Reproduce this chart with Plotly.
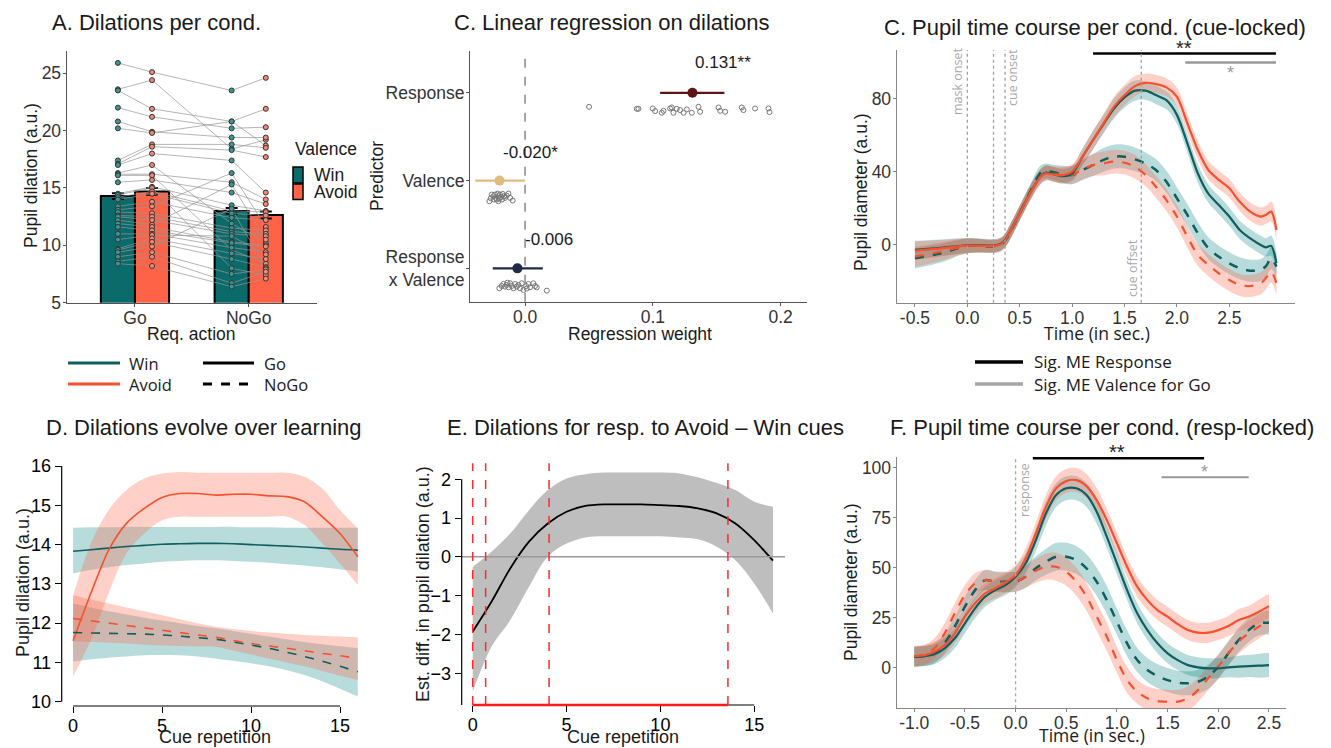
import plotly.graph_objects as go

# ======================= DATA =======================
# --- Panel A: dilations per condition ---
actions = ["Go", "NoGo"]
bar_win = [14.3, 13.0]
bar_avoid = [14.7, 12.65]
bar_se_win = [0.25, 0.25]
bar_se_avoid = [0.3, 0.3]
subj_go_win = [25.9, 23.6, 23.5, 22.0, 20.8, 20.2, 17.4, 17.1, 17.0, 16.3, 16.2, 16.1, 15.5, 14.5, 14.4,
               14.2, 14.0, 13.4, 13.1, 12.9, 12.6, 12.5, 12.2, 11.9, 11.6, 11.0, 10.5, 9.7, 9.6, 9.4, 9.0, 8.6, 8.4]
subj_go_avoid = [25.1, 24.4, 21.9, 21.2, 19.9, 19.8, 18.8, 18.6, 18.0, 17.0, 16.2, 16.1, 15.7, 15.1, 15.0,
                 14.7, 14.5, 13.8, 13.4, 12.8, 12.5, 12.2, 11.8, 11.6, 11.3, 11.0, 10.9, 10.6, 10.3, 9.9, 9.4, 9.0, 8.2]
subj_nogo_win = [23.5, 18.4, 20.8, 20.2, 19.4, 20.8, 18.8, 18.3, 17.4, 11.9, 15.5, 9.6, 14.6, 13.5, 8.0,
                 13.0, 12.8, 12.4, 16.3, 11.5, 11.2, 11.0, 15.3, 10.3, 10.2, 9.8, 10.8, 9.3, 8.8, 13.2, 7.5, 6.7, 6.4]
subj_nogo_avoid = [24.6, 19.2, 21.9, 20.3, 19.4, 18.7, 18.5, 17.7, 14.6, 10.2, 14.0, 8.4, 13.6, 13.0, 7.4,
                   12.9, 12.6, 12.2, 11.6, 11.3, 11.0, 10.8, 10.5, 10.0, 9.9, 9.4, 9.2, 8.8, 8.1, 8.0, 7.9, 7.7, 7.1]

# --- Panel C (left): regression weights ---
predictors = ["Response", "Valence", "Response<br>x Valence"]
pred_row = [3, 2, 1]
est = [0.131, -0.020, -0.006]
ci_lo = [0.1057, -0.039, -0.0253]
ci_hi = [0.156, 0.0, 0.0139]
est_labels = ["0.131**", "-0.020*", "-0.006"]
est_colors = ["#5e1414", "#e0bb80", "#1e2a48"]
w_response = [0.0501, 0.0874, 0.0887, 0.0999, 0.1018, 0.107, 0.1083, 0.1135, 0.1148, 0.1161, 0.1187, 0.1213, 0.124,
              0.1266, 0.1305, 0.1357, 0.137, 0.1514, 0.1527, 0.1566, 0.1696, 0.1709, 0.18, 0.1905, 0.1913]
jit_response = [0.159, 0.182, 0.182, 0.178, 0.208, 0.227, 0.205, 0.178, 0.167, 0.227, 0.182, 0.197, 0.227,
                0.189, 0.227, 0.159, 0.216, 0.167, 0.205, 0.216, 0.167, 0.197, 0.178, 0.178, 0.220]
w_valence = [-0.0279, -0.0269, -0.0248, -0.0243, -0.0235, -0.0227, -0.0222, -0.0214, -0.0209, -0.0201, -0.0196,
             -0.0188, -0.018, -0.0175, -0.0164, -0.0157, -0.0144, -0.013, -0.0117, -0.0097, -0.0261, -0.0209]
jit_valence = [0.235, 0.201, 0.178, 0.216, 0.159, 0.197, 0.216, 0.148, 0.178, 0.205, 0.159, 0.186, 0.216, 0.152,
               0.178, 0.197, 0.170, 0.148, 0.197, 0.227, 0.159, 0.235]
w_interact = [-0.0201, -0.0183, -0.017, -0.0157, -0.0144, -0.013, -0.0117, -0.0104, -0.0091, -0.0078, -0.0065,
              -0.0052, -0.0039, -0.0026, -0.0013, 0.0008, 0.0026, 0.0039, 0.0065, 0.0078, 0.0091, 0.017, 0.0013, -0.0138]
jit_interact = [0.227, 0.201, 0.178, 0.208, 0.189, 0.216, 0.170, 0.201, 0.227, 0.178, 0.208, 0.189, 0.227, 0.170,
                0.246, 0.201, 0.178, 0.216, 0.170, 0.201, 0.216, 0.254, 0.231, 0.163]

# --- Panel C (right): cue-locked time course ---
t_cue = [-0.5, -0.25, 0, 0.25, 0.3, 0.35, 0.4, 0.5, 0.6, 0.7, 0.75, 0.8, 0.9, 1.0, 1.1, 1.2, 1.3, 1.4, 1.5, 1.6,
         1.7, 1.8, 1.9, 2.0, 2.1, 2.2, 2.3, 2.4, 2.5, 2.6, 2.7, 2.8, 2.85, 2.9, 2.95]
cue_go_win = [-2.7, -1.5, -0.2, -0.3, 0.2, 2.0, 6.5, 17.5, 28.5, 37.5, 39.5, 39.0, 37.5, 39.0, 48.2, 57.3, 66.0,
              74.5, 80.5, 84.2, 84.2, 81.8, 79.0, 71.0, 55.5, 39.0, 28.0, 21.8, 15.5, 8.2, 3.6, 0.0, -1.3, -0.5, -10.0]
cue_go_avoid = [-3.1, -1.8, -0.4, -0.5, 0.0, 1.8, 6.4, 17.3, 28.2, 37.3, 39.1, 38.7, 38.0, 40.0, 48.2, 57.3, 66.4,
                75.5, 81.8, 86.7, 88.5, 87.8, 86.0, 80.9, 66.4, 51.8, 40.9, 35.5, 30.9, 23.6, 18.2, 15.5, 16.4, 18.2, 8.2]
cue_nogo_win = [-7.3, -4.5, -0.5, -0.9, -0.5, 1.5, 6.0, 17.3, 29.0, 39.5, 40.5, 40.0, 38.7, 38.2, 40.9, 43.6, 46.4,
                48.2, 48.2, 46.7, 44.5, 40.9, 34.5, 25.5, 16.4, 6.4, -1.8, -6.4, -10.0, -12.7, -14.0, -13.6, -11.5, -7.3, -11.8]
cue_nogo_avoid = [-6.4, -3.6, -0.5, -0.7, -0.3, 1.6, 6.2, 17.3, 28.5, 37.3, 39.5, 39.1, 38.2, 38.2, 41.3, 43.6, 44.5,
                  45.5, 44.9, 42.7, 38.2, 31.8, 24.5, 15.5, 4.5, -5.5, -10.9, -15.5, -19.1, -21.8, -22.4, -20.9, -18.0, -14.5, -20.9]
cue_se_go = [5, 4.5, 4, 3.5, 3.5, 3.5, 4, 4, 4, 4, 4, 4, 4, 4, 4.5, 5, 5, 5.5, 5.5, 5.5, 5, 5, 5, 5, 5, 5, 5, 5, 5,
             5, 5, 5, 5, 5.5, 6]
cue_se_nogo = [5.5, 5, 4, 3.5, 3.5, 3.5, 4, 4, 4, 4, 4, 4, 4.5, 5, 5.5, 6, 6.5, 6.5, 6.5, 6.5, 6, 6, 6, 6, 6, 6, 6,
               6, 6, 6, 6, 6, 6, 6, 6.5]
cue_events = [0.0, 0.25, 0.36, 1.66]
cue_sig_response = [1.2, 2.945]
cue_sig_valence = [2.08, 2.945]

# --- Panel D: dilations over learning ---
rep = list(range(17))
d_go_win = [13.83, 13.87, 13.91, 13.95, 13.98, 14.01, 14.02, 14.03, 14.03, 14.02, 14.0, 13.98, 13.96, 13.94, 13.91, 13.88, 13.86]
d_go_win_hi = [14.43, 14.44, 14.44, 14.45, 14.45, 14.45, 14.45, 14.45, 14.45, 14.45, 14.44, 14.44, 14.43, 14.43, 14.43, 14.43, 14.43]
d_go_win_lo = [13.27, 13.35, 13.42, 13.48, 13.52, 13.56, 13.58, 13.6, 13.6, 13.58, 13.56, 13.54, 13.5, 13.47, 13.42, 13.37, 13.31]
d_go_avoid = [11.55, 12.76, 13.86, 14.54, 14.92, 15.2, 15.3, 15.3, 15.26, 15.28, 15.28, 15.24, 15.22, 15.09, 14.71, 14.28, 13.69]
d_go_avoid_hi = [12.71, 14.03, 14.88, 15.39, 15.68, 15.81, 15.85, 15.83, 15.83, 15.83, 15.83, 15.83, 15.83, 15.73, 15.43, 14.88, 14.41]
d_go_avoid_lo = [10.64, 11.57, 12.76, 13.77, 14.28, 14.62, 14.71, 14.71, 14.71, 14.71, 14.71, 14.71, 14.71, 14.5, 14.03, 13.52, 12.97]
d_nogo_win = [11.76, 11.75, 11.74, 11.73, 11.72, 11.7, 11.67, 11.63, 11.59, 11.52, 11.44, 11.36, 11.26, 11.15, 11.03, 10.9, 10.76]
d_nogo_win_hi = [12.5, 12.4, 12.3, 12.22, 12.14, 12.07, 12.0, 11.93, 11.87, 11.8, 11.73, 11.66, 11.59, 11.52, 11.46, 11.41, 11.36]
d_nogo_win_lo = [11.02, 11.08, 11.12, 11.15, 11.18, 11.19, 11.18, 11.15, 11.1, 11.04, 10.98, 10.9, 10.8, 10.68, 10.52, 10.33, 10.13]
d_nogo_avoid = [12.12, 12.06, 12.0, 11.94, 11.88, 11.82, 11.76, 11.7, 11.64, 11.56, 11.48, 11.42, 11.36, 11.3, 11.23, 11.17, 11.1]
d_nogo_avoid_hi = [12.71, 12.6, 12.5, 12.4, 12.3, 12.2, 12.1, 12.0, 11.91, 11.85, 11.8, 11.76, 11.73, 11.7, 11.68, 11.66, 11.64]
d_nogo_avoid_lo = [11.53, 11.52, 11.5, 11.48, 11.45, 11.43, 11.42, 11.41, 11.4, 11.3, 11.2, 11.1, 11.0, 10.9, 10.78, 10.66, 10.55]

# --- Panel E: Avoid - Win difference for Go ---
e_diff = [-1.93, -1.16, -0.3, 0.39, 0.86, 1.16, 1.31, 1.35, 1.35, 1.35, 1.33, 1.31, 1.25, 1.12, 0.86, 0.43, -0.1]
e_hi = [-0.26, 0.13, 0.6, 1.2, 1.72, 2.02, 2.13, 2.17, 2.17, 2.17, 2.17, 2.15, 2.05, 1.9, 1.72, 1.42, 1.29]
e_lo = [-3.48, -2.32, -1.63, -0.77, 0.0, 0.34, 0.5, 0.53, 0.53, 0.53, 0.53, 0.5, 0.45, 0.26, -0.09, -0.69, -1.46]
e_sig_bounds = [0.0, 0.69, 4.07, 13.6]

# --- Panel F: response-locked time course ---
t_resp = [-1.0, -0.9, -0.8, -0.7, -0.6, -0.5, -0.4, -0.3, -0.2, -0.1, 0.0, 0.1, 0.2, 0.3, 0.4, 0.5, 0.6, 0.7, 0.8,
          0.9, 1.0, 1.1, 1.2, 1.3, 1.4, 1.5, 1.6, 1.7, 1.8, 1.9, 2.0, 2.1, 2.2, 2.3, 2.4, 2.5]
f_go_win = [5.5, 5.8, 6.8, 9.7, 14.7, 22.2, 29.7, 35.5, 38.8, 41.3, 45.5, 52.2, 63.8, 77.2, 86.3, 89.7, 89.7, 86.3,
            78.0, 65.5, 52.2, 38.8, 27.2, 18.8, 12.2, 7.2, 3.8, 1.3, 0.2, -0.3, -0.3, 0.2, 0.5, 0.8, 1.0, 1.3]
f_go_avoid = [5.8, 6.3, 8.0, 11.3, 17.2, 25.5, 32.2, 37.2, 39.7, 42.5, 46.3, 54.7, 67.2, 80.5, 89.7, 93.3, 93.8, 90.8,
              83.8, 73.8, 62.2, 50.5, 40.5, 33.8, 28.8, 25.5, 21.8, 18.8, 17.5, 17.5, 18.8, 20.8, 23.8, 25.5, 28.0, 30.8]
f_nogo_win = [5.5, 5.8, 7.2, 12.2, 20.5, 30.5, 38.8, 43.8, 43.0, 43.0, 43.0, 45.5, 49.7, 53.0, 55.5, 55.5, 53.8, 49.7,
              43.0, 33.8, 23.0, 12.2, 3.8, -1.2, -4.2, -6.2, -7.5, -7.8, -7.0, -4.5, 0.5, 7.2, 13.8, 18.8, 22.2, 22.5]
f_nogo_avoid = [5.5, 6.3, 9.7, 17.2, 27.2, 36.3, 42.2, 43.8, 43.0, 42.5, 43.0, 45.5, 48.5, 50.5, 50.5, 48.0, 43.0, 35.5,
                25.5, 15.5, 3.8, -6.2, -12.0, -15.3, -16.7, -17.0, -17.0, -15.3, -11.2, -5.3, 0.5, 7.2, 13.0, 17.2, 20.5, 23.8]
f_se_go = [5, 5, 5, 5, 5, 5, 5, 5, 5, 5, 5, 5, 5.5, 6, 6, 6, 6, 6, 6, 5.5, 5.5, 5, 5, 5, 5, 5, 5, 5, 5, 5, 5, 5,
           5.5, 5.5, 6, 6]
f_se_nogo = [5, 5, 5, 5, 5, 5, 5, 5, 5, 5, 5, 5.5, 6, 6.5, 7, 7, 7, 7, 7, 7, 6.5, 6.5, 6, 6, 6, 6, 6, 6, 6, 6, 6, 6,
             6, 6, 6, 6]
f_sig_response = [0.17, 1.86]
f_sig_valence = [1.44, 2.3]

# ======================= STYLE / LAYOUT HELPERS =======================
W, H = 1331, 748


def fx(p):
    return p / W


def fy(p):
    return 1 - p / H


FONT = "Liberation Sans, Arial, sans-serif"
FONT2 = "Open Sans, Segoe UI, sans-serif"
WIN_BAR = "#0b6b6b"
AVOID_BAR = "#ff6347"
WIN_LINE = "#115e5e"
AVOID_LINE = "#f7502e"
WIN_PT = "#3f9494"
AVOID_PT = "#f08a78"
WIN_BAND = "rgba(0,128,128,0.28)"
AVOID_BAND = "rgba(255,99,71,0.30)"

fig = go.Figure()
annotations = []
shapes = []


def txt(x, y, s, size=17, color="#1a1a1a", font=FONT, xanchor="center", yanchor="middle", angle=0, pad=1):
    annotations.append(dict(x=fx(x), y=fy(y), xref="paper", yref="paper", text=s, showarrow=False,
                            font=dict(size=size, color=color, family=font), xanchor=xanchor,
                            yanchor=yanchor, textangle=angle, borderpad=pad))


def band(x, lo, hi, color, xa, ya, shape="spline"):
    fig.add_trace(go.Scatter(x=x, y=lo, mode="lines", line=dict(width=0, shape=shape), xaxis=xa, yaxis=ya,
                             showlegend=False, hoverinfo="skip"))
    fig.add_trace(go.Scatter(x=x, y=hi, mode="lines", line=dict(width=0, shape=shape), fill="tonexty",
                             fillcolor=color, xaxis=xa, yaxis=ya, showlegend=False, hoverinfo="skip"))


def curve(x, y, color, dash, width, xa, ya):
    fig.add_trace(go.Scatter(x=x, y=y, mode="lines", line=dict(color=color, width=width, dash=dash, shape="spline",
                                                              smoothing=0.8),
                             xaxis=xa, yaxis=ya, showlegend=False, hoverinfo="skip"))


# ======================= PANEL A =======================
cat_pos = {a: i + 1 for i, a in enumerate(actions)}
dodge = 0.15
x_win = [cat_pos[a] - dodge for a in actions]
x_avoid = [cat_pos[a] + dodge for a in actions]
fig.add_trace(go.Bar(x=x_win, y=bar_win, width=0.3, marker=dict(color=WIN_BAR, line=dict(color="black", width=2)),
                     error_y=dict(type="data", array=bar_se_win, color="black", thickness=2, width=6),
                     xaxis="x", yaxis="y", showlegend=False))
fig.add_trace(go.Bar(x=x_avoid, y=bar_avoid, width=0.3,
                     marker=dict(color=AVOID_BAR, line=dict(color="black", width=2)),
                     error_y=dict(type="data", array=bar_se_avoid, color="black", thickness=2, width=6),
                     xaxis="x", yaxis="y", showlegend=False))
cond_x = [x_win[0], x_avoid[0], x_win[1], x_avoid[1]]
lx, ly = [], []
for vals in zip(subj_go_win, subj_go_avoid, subj_nogo_win, subj_nogo_avoid):
    lx += cond_x + [None]
    ly += list(vals) + [None]
fig.add_trace(go.Scatter(x=lx, y=ly, mode="lines", line=dict(color="rgba(150,150,150,0.7)", width=1),
                         xaxis="x", yaxis="y", showlegend=False, hoverinfo="skip"))
for xc, vals, col in [(cond_x[0], subj_go_win, WIN_PT), (cond_x[1], subj_go_avoid, AVOID_PT),
                      (cond_x[2], subj_nogo_win, WIN_PT), (cond_x[3], subj_nogo_avoid, AVOID_PT)]:
    fig.add_trace(go.Scatter(x=[xc] * len(vals), y=vals, mode="markers",
                             marker=dict(size=5, color=col, line=dict(color="#333333", width=1)),
                             xaxis="x", yaxis="y", showlegend=False, hoverinfo="skip"))

# ======================= PANEL C (regression) =======================
for w, jit, row in [(w_response, jit_response, pred_row[0]), (w_valence, jit_valence, pred_row[1]),
                    (w_interact, jit_interact, pred_row[2])]:
    fig.add_trace(go.Scatter(x=w, y=[row - j for j in jit], mode="markers",
                             marker=dict(size=5, color="rgba(255,255,255,0)", line=dict(color="#777777", width=1)),
                             xaxis="x2", yaxis="y2", showlegend=False, hoverinfo="skip"))
for i in range(len(est)):
    fig.add_trace(go.Scatter(x=[est[i]], y=[pred_row[i]], mode="markers",
                             marker=dict(size=10, color=est_colors[i]),
                             error_x=dict(type="data", symmetric=False, array=[ci_hi[i] - est[i]],
                                          arrayminus=[est[i] - ci_lo[i]], width=0, thickness=2.2,
                                          color=est_colors[i]),
                             xaxis="x2", yaxis="y2", showlegend=False, hoverinfo="skip"))
shapes.append(dict(type="line", xref="x2", yref="y2 domain", x0=0, x1=0, y0=0, y1=1,
                   line=dict(color="#8a8a8a", width=1.5, dash="dash")))
lab_pos = [(723, 62), (530, 152), (549, 239)]
for (px, py), s in zip(lab_pos, est_labels):
    txt(px, py, s, size=17)

# ======================= PANEL C (cue-locked) =======================
band(t_cue, [a - b for a, b in zip(cue_nogo_win, cue_se_nogo)], [a + b for a, b in zip(cue_nogo_win, cue_se_nogo)],
     WIN_BAND, "x3", "y3")
band(t_cue, [a - b for a, b in zip(cue_nogo_avoid, cue_se_nogo)],
     [a + b for a, b in zip(cue_nogo_avoid, cue_se_nogo)], AVOID_BAND, "x3", "y3")
band(t_cue, [a - b for a, b in zip(cue_go_win, cue_se_go)], [a + b for a, b in zip(cue_go_win, cue_se_go)],
     WIN_BAND, "x3", "y3")
band(t_cue, [a - b for a, b in zip(cue_go_avoid, cue_se_go)], [a + b for a, b in zip(cue_go_avoid, cue_se_go)],
     AVOID_BAND, "x3", "y3")
curve(t_cue, cue_nogo_win, WIN_LINE, "dash", 2.5, "x3", "y3")
curve(t_cue, cue_nogo_avoid, AVOID_LINE, "dash", 2.2, "x3", "y3")
curve(t_cue, cue_go_win, WIN_LINE, "solid", 2.2, "x3", "y3")
curve(t_cue, cue_go_avoid, AVOID_LINE, "solid", 2.2, "x3", "y3")
for ev in cue_events:
    shapes.append(dict(type="line", xref="x3", yref="y3 domain", x0=ev, x1=ev, y0=0, y1=1,
                       line=dict(color="#a0a0a0", width=1.3, dash="dot")))
fig.add_trace(go.Scatter(x=cue_sig_response, y=[104.5, 104.5], mode="lines", line=dict(color="black", width=2.5),
                         xaxis="x3", yaxis="y3", showlegend=False, hoverinfo="skip"))
fig.add_trace(go.Scatter(x=cue_sig_valence, y=[99.6, 99.6], mode="lines", line=dict(color="#999999", width=2.5),
                         xaxis="x3", yaxis="y3", showlegend=False, hoverinfo="skip"))
txt(1184, 48, "**", size=20, color="#222222")
txt(1230, 73, "*", size=18, color="#999999")
txt(957, 82, "mask onset", size=12.5, color="#a8a8a8", font=FONT2, angle=-90)
txt(1013, 78, "cue onset", size=12.5, color="#a8a8a8", font=FONT2, angle=-90)
txt(1132, 268, "cue offset", size=12.5, color="#a8a8a8", font=FONT2, angle=-90)

# ======================= PANEL D =======================
band(rep, d_nogo_win_lo, d_nogo_win_hi, WIN_BAND, "x4", "y4")
band(rep, d_go_win_lo, d_go_win_hi, WIN_BAND, "x4", "y4")
band(rep, d_nogo_avoid_lo, d_nogo_avoid_hi, AVOID_BAND, "x4", "y4")
band(rep, d_go_avoid_lo, d_go_avoid_hi, AVOID_BAND, "x4", "y4")
curve(rep, d_go_win, WIN_LINE, "solid", 1.6, "x4", "y4")
curve(rep, d_go_avoid, AVOID_LINE, "solid", 1.6, "x4", "y4")
curve(rep, d_nogo_win, WIN_LINE, "dash", 1.6, "x4", "y4")
curve(rep, d_nogo_avoid, AVOID_LINE, "dash", 1.6, "x4", "y4")
shapes.append(dict(type="line", xref="x4 domain", yref="y4", x0=0, x1=0, y0=10, y1=16,
                   line=dict(color="black", width=1.2)))
shapes.append(dict(type="line", xref="x4", yref="y4 domain", x0=0, x1=15, y0=0, y1=0,
                   line=dict(color="black", width=1.2)))

# ======================= PANEL E =======================
E_YR = [-3.82, 2.41]
band(rep, e_lo, e_hi, "#bebebe", "x5", "y5")
shapes.append(dict(type="line", xref="x5 domain", yref="y5", x0=0, x1=1, y0=0, y1=0,
                   line=dict(color="#9a9a9a", width=1.5)))
curve(rep, e_diff, "black", "solid", 1.8, "x5", "y5")
shapes.append(dict(type="line", xref="x5 domain", yref="y5", x0=0, x1=0, y0=E_YR[0], y1=2,
                   line=dict(color="black", width=1.2)))
shapes.append(dict(type="line", xref="x5", yref="y5 domain", x0=0, x1=15, y0=0, y1=0,
                   line=dict(color="black", width=1.2)))
shapes.append(dict(type="line", xref="x5", yref="y5 domain", x0=e_sig_bounds[0], x1=e_sig_bounds[-1], y0=0, y1=0,
                   line=dict(color="#ff1a1a", width=2.5)))
for b in e_sig_bounds:
    shapes.append(dict(type="line", xref="x5", yref="y5 domain", x0=b, x1=b, y0=0, y1=1,
                       line=dict(color="#ff2a2a", width=1.5, dash="dash")))

# ======================= PANEL F =======================
band(t_resp, [a - b for a, b in zip(f_nogo_win, f_se_nogo)], [a + b for a, b in zip(f_nogo_win, f_se_nogo)],
     WIN_BAND, "x6", "y6")
band(t_resp, [a - b for a, b in zip(f_nogo_avoid, f_se_nogo)], [a + b for a, b in zip(f_nogo_avoid, f_se_nogo)],
     AVOID_BAND, "x6", "y6")
band(t_resp, [a - b for a, b in zip(f_go_win, f_se_go)], [a + b for a, b in zip(f_go_win, f_se_go)],
     WIN_BAND, "x6", "y6")
band(t_resp, [a - b for a, b in zip(f_go_avoid, f_se_go)], [a + b for a, b in zip(f_go_avoid, f_se_go)],
     AVOID_BAND, "x6", "y6")
curve(t_resp, f_nogo_win, WIN_LINE, "dash", 2.5, "x6", "y6")
curve(t_resp, f_nogo_avoid, AVOID_LINE, "dash", 2.2, "x6", "y6")
curve(t_resp, f_go_win, WIN_LINE, "solid", 2.2, "x6", "y6")
curve(t_resp, f_go_avoid, AVOID_LINE, "solid", 2.2, "x6", "y6")
shapes.append(dict(type="line", xref="x6", yref="y6 domain", x0=0, x1=0, y0=0, y1=1,
                   line=dict(color="#a8a8a8", width=1.3, dash="dot")))
fig.add_trace(go.Scatter(x=f_sig_response, y=[104.7, 104.7], mode="lines", line=dict(color="black", width=2.5),
                         xaxis="x6", yaxis="y6", showlegend=False, hoverinfo="skip", cliponaxis=False))
fig.add_trace(go.Scatter(x=f_sig_valence, y=[95.2, 95.2], mode="lines", line=dict(color="#999999", width=2),
                         xaxis="x6", yaxis="y6", showlegend=False, hoverinfo="skip"))
txt(1117, 452, "**", size=20, color="#222222")
txt(1204, 472, "*", size=18, color="#999999")
txt(1025, 490, "response", size=12.5, color="#a8a8a8", font=FONT2, angle=-90)

# ======================= TITLES / AXIS TITLES =======================
txt(156, 22, "A. Dilations per cond.", size=22)
txt(612, 22, "C. Linear regression on dilations", size=22)
txt(1095, 27, "C. Pupil time course per cond. (cue-locked)", size=22)
txt(204, 428, "D. Dilations evolve over learning", size=22)
txt(645, 428, "E. Dilations for resp. to Avoid \u2013 Win cues", size=22)
txt(1102, 428, "F. Pupil time course per cond. (resp-locked)", size=22)

txt(191, 334, "Req. action", size=17.5)
txt(31, 176, "Pupil dilation (a.u.)", size=17.5, angle=-90)
txt(640, 334, "Regression weight", size=17.5)
txt(377, 176, "Predictor", size=17.5, angle=-90)
txt(1097, 333, "Time (in sec.)", size=17.5, font=FONT2)
txt(861, 192, "Pupil diameter (a.u.)", size=17.5, angle=-90)
txt(215, 748, "Cue repetition", size=18, yanchor="bottom", pad=0)
txt(23, 583, "Pupil dilation (a.u.)", size=18, angle=-90)
txt(623, 748, "Cue repetition", size=18, yanchor="bottom", pad=0)
txt(423, 584, "Est. diff. in pupil dilation (a.u.)", size=18, angle=-90)
txt(1092, 748, "Time (in sec.)", size=17.5, font=FONT2, yanchor="bottom", pad=0)
txt(851, 582, "Pupil diameter (a.u.)", size=17.5, angle=-90)

# ======================= LEGENDS (drawn) =======================
txt(293, 149, "Valence", size=17.5, xanchor="left")
for (y0, y1, col, lab) in [(167, 183, WIN_BAR, "Win"), (184, 199.5, AVOID_BAR, "Avoid")]:
    shapes.append(dict(type="rect", xref="paper", yref="paper", x0=fx(293), x1=fx(303), y0=fy(y1), y1=fy(y0),
                       fillcolor=col, line=dict(color="black", width=1.5)))
    txt(312, (y0 + y1) / 2, lab, size=17.5, xanchor="left")
for (x0, x1, y, col, dash, lab, tx) in [(68, 120, 363, WIN_LINE, "solid", "Win", 127),
                                        (68, 120, 384, AVOID_LINE, "solid", "Avoid", 127),
                                        (203, 254, 363, "black", "solid", "Go", 262),
                                        (203, 254, 384, "black", "dash", "NoGo", 262)]:
    shapes.append(dict(type="line", xref="paper", yref="paper", x0=fx(x0), x1=fx(x1), y0=fy(y), y1=fy(y),
                       line=dict(color=col, width=3, dash=dash)))
    txt(tx, y, lab, size=16.5, font=FONT2, xanchor="left")
for (y, col, lab) in [(362, "black", "Sig. ME Response"), (384, "#a6a6a6", "Sig. ME Valence for Go")]:
    shapes.append(dict(type="line", xref="paper", yref="paper", x0=fx(975), x1=fx(1023), y0=fy(y), y1=fy(y),
                       line=dict(color=col, width=3.5)))
    txt(1032, y, lab, size=17, font=FONT2, xanchor="left")

# ======================= AXES =======================
TICKF = dict(size=17.5, color="#333333", family=FONT)


def axis(dom, rng, anchor, **kw):
    d = dict(domain=dom, range=rng, anchor=anchor, showgrid=False, zeroline=False, fixedrange=True,
             tickfont=TICKF)
    d.update(kw)
    return d


gg = dict(showline=True, linecolor="#555555", linewidth=1.2, ticks="outside", ticklen=3, tickcolor="#555555")
gg2 = dict(showline=True, linecolor="#888888", linewidth=1.2, ticks="outside", ticklen=3, tickcolor="#888888")
base = dict(showline=False, ticks="outside", ticklen=6, tickcolor="black", tickwidth=1.2,
            tickfont=dict(size=18, color="black", family=FONT))

layout_axes = dict(
    xaxis=axis([fx(66.7), fx(317)], [0.4, 2.6], "y", tickvals=[1, 2], ticktext=actions,
               ticklabelstandoff=-4, **gg),
    yaxis=axis([fy(302.7), fy(51)], [5, 26.94], "x", tickvals=[5, 10, 15, 20, 25], ticklabelstandoff=-2, **gg),
    xaxis2=axis([fx(470), fx(806.7)], [-0.0431, 0.2204], "y2", tickvals=[0, 0.1, 0.2],
                ticktext=["0.0", "0.1", "0.2"], ticklabelstandoff=-4, **gg),
    yaxis2=axis([fy(301.7), fy(50.7)], [0.62, 3.48], "x2", tickvals=pred_row, ticktext=predictors,
                ticklabelstandoff=-2, **gg),
    xaxis3=axis([fx(896.7), fx(1295)], [-0.674, 3.127], "y3", tickvals=[-0.5, 0, 0.5, 1, 1.5, 2, 2.5],
                ticktext=["-0.5", "0.0", "0.5", "1.0", "1.5", "2.0", "2.5"], ticklabelstandoff=-4, **gg2),
    yaxis3=axis([fy(302.7), fy(50)], [-31.5, 106.4], "x3", tickvals=[0, 40, 80], ticklabelstandoff=-2, **gg2),
    xaxis4=axis([fx(61.7), fx(369.2)], [-0.64, 16.64], "y4", tickvals=[0, 5, 10, 15], ticklabelstandoff=-3, **base),
    yaxis4=axis([fy(706), fy(456.6)], [9.89, 16.24], "x4", tickvals=[10, 11, 12, 13, 14, 15, 16], **base),
    xaxis5=axis([fx(461.7), fx(785)], [-0.586, 16.64], "y5", tickvals=[0, 5, 10, 15], ticklabelstandoff=-3, **base),
    yaxis5=axis([fy(705), fy(463.3)], E_YR, "x5", tickvals=[-3, -2, -1, 0, 1, 2], **base),
    xaxis6=axis([fx(896.7), fx(1286)], [-1.173, 2.668], "y6", tickvals=[-1, -0.5, 0, 0.5, 1, 1.5, 2, 2.5],
                ticktext=["-1.0", "-0.5", "0.0", "0.5", "1.0", "1.5", "2.0", "2.5"], ticklabelstandoff=-4, **gg2),
    yaxis6=axis([fy(708.3), fy(456.7)], [-20.3, 105.5], "x6", tickvals=[0, 25, 50, 75, 100],
                ticklabelstandoff=-2, **gg2),
)

# width fixed; height follows the browser viewport so the page is filled exactly
fig.update_layout(
    width=W, autosize=True,
    margin=dict(l=0, r=0, t=0, b=0, autoexpand=False),
    paper_bgcolor="white", plot_bgcolor="white",
    font=dict(family=FONT, color="#1a1a1a"),
    showlegend=False, hovermode=False,
    annotations=annotations, shapes=shapes,
    **layout_axes,
)

page_fix = (
    "var de=document.documentElement, b=document.body;"
    "de.style.margin='0';de.style.padding='0';de.style.overflow='hidden';"
    "b.style.margin='0';b.style.padding='0';b.style.overflow='hidden';"
    "var g=document.getElementById('{plot_id}');"
    "g.style.position='absolute';g.style.left='0px';g.style.top='0px';"
    "g.style.width='1331px';g.style.height='100vh';"
    "Plotly.Plots.resize(g);"
)
fig.write_html("out.html", config={"displayModeBar": False, "responsive": True},
               default_width="1331px", default_height="100vh", post_script=page_fix)
